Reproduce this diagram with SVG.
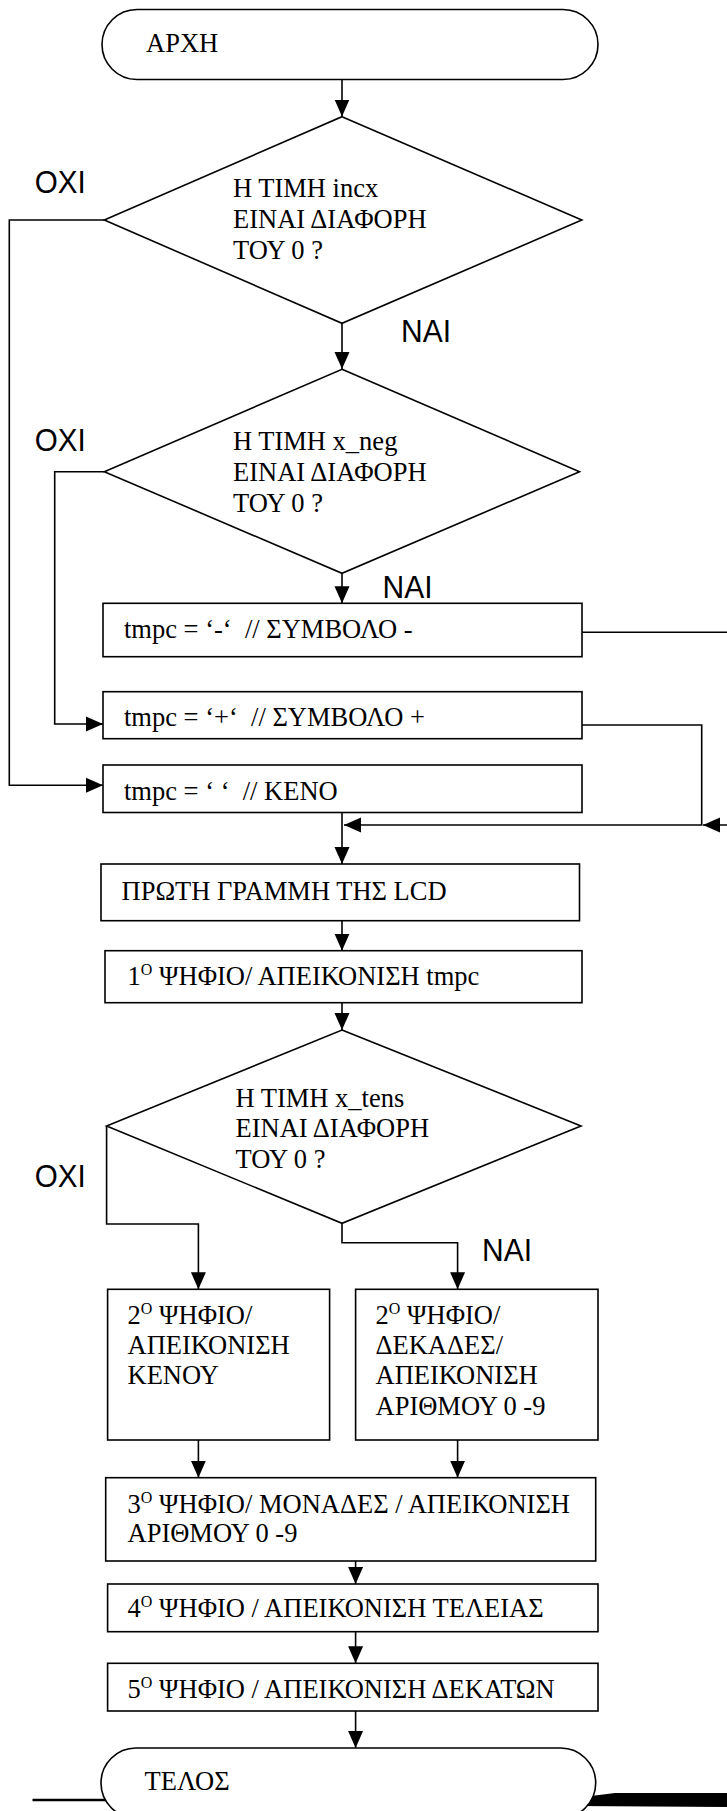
<svg xmlns="http://www.w3.org/2000/svg" width="727" height="1811" viewBox="0 0 727 1811">
<style>
  .shape { fill: #ffffff; stroke: #000000; stroke-width: 1.6; }
  .conn { fill: none; stroke: #000000; stroke-width: 1.6; }
  .t { font-family: "Liberation Serif", "Times New Roman", serif; font-size: 26.5px; fill: #000000; white-space: pre; }
  .sup { font-size: 16px; }
  .lbl { font-family: "Liberation Sans", Arial, sans-serif; font-size: 32px; fill: #000000; }
</style>
<defs>
  <marker id="arr" markerUnits="userSpaceOnUse" markerWidth="18" markerHeight="16" refX="17" refY="8" orient="auto">
    <path d="M0,0.5 L17,8 L0,15.5 Z" fill="#000000"/>
  </marker>
</defs>
<rect width="727" height="1811" fill="#ffffff"/>

<g id="connectors">
  <path class="conn" d="M342,79.5 V116.5" marker-end="url(#arr)"/>
  <path class="conn" d="M342,323.5 V369" marker-end="url(#arr)"/>
  <path class="conn" d="M104.3,220 H9.3 V785.3 H103" marker-end="url(#arr)"/>
  <path class="conn" d="M342,573.3 V603.3" marker-end="url(#arr)"/>
  <path class="conn" d="M104.3,471.7 H54.7 V724 H103" marker-end="url(#arr)"/>
  <path class="conn" d="M582,632.3 H740 V825 H703" marker-end="url(#arr)"/>
  <path class="conn" d="M582,725 H701.7 V825 H344" marker-end="url(#arr)"/>
  <path class="conn" d="M342,812.5 V864" marker-end="url(#arr)"/>
  <path class="conn" d="M342,920.7 V950.7" marker-end="url(#arr)"/>
  <path class="conn" d="M342,1002.7 V1030" marker-end="url(#arr)"/>
  <path class="conn" d="M106.6,1126 V1224 H198.4 V1289.3" marker-end="url(#arr)"/>
  <path class="conn" d="M342,1223.3 V1242.7 H457.6 V1289.3" marker-end="url(#arr)"/>
  <path class="conn" d="M198.4,1440 V1477.7" marker-end="url(#arr)"/>
  <path class="conn" d="M457.6,1440 V1477.7" marker-end="url(#arr)"/>
  <path class="conn" d="M355.6,1561 V1584" marker-end="url(#arr)"/>
  <path class="conn" d="M355.6,1631.7 V1663.3" marker-end="url(#arr)"/>
  <path class="conn" d="M355.6,1711 V1748" marker-end="url(#arr)"/>
</g>

<g id="labels">
  <text class="lbl" x="34.8" y="192.7" textLength="51" lengthAdjust="spacingAndGlyphs">ΟΧΙ</text>
  <text class="lbl" x="401" y="342" textLength="50" lengthAdjust="spacingAndGlyphs">ΝΑΙ</text>
  <text class="lbl" x="34.8" y="450.7" textLength="51" lengthAdjust="spacingAndGlyphs">ΟΧΙ</text>
  <text class="lbl" x="382.5" y="598.3" textLength="50" lengthAdjust="spacingAndGlyphs">ΝΑΙ</text>
  <text class="lbl" x="34.8" y="1186.7" textLength="51" lengthAdjust="spacingAndGlyphs">ΟΧΙ</text>
  <text class="lbl" x="482" y="1260.7" textLength="50" lengthAdjust="spacingAndGlyphs">ΝΑΙ</text>
</g>

<g id="start">
  <rect class="shape" x="102" y="9.5" width="496" height="70" rx="35" ry="35"/>
  <text class="t" x="146" y="52">ΑΡΧΗ</text>
</g>

<g id="decision-incx">
  <polygon class="shape" points="342,116.7 581.8,220 342,323.3 104.3,220"/>
  <text class="t" x="233" y="197">Η ΤΙΜΗ incx</text>
  <text class="t" x="233" y="228">ΕΙΝΑΙ ΔΙΑΦΟΡΗ</text>
  <text class="t" x="233" y="259">ΤΟΥ 0 ?</text>
</g>

<g id="decision-xneg">
  <polygon class="shape" points="342,369.3 579.5,471.7 342,573.3 104.3,471.7"/>
  <text class="t" x="233" y="450">Η ΤΙΜΗ x_neg</text>
  <text class="t" x="233" y="481">ΕΙΝΑΙ ΔΙΑΦΟΡΗ</text>
  <text class="t" x="233" y="512">ΤΟΥ 0 ?</text>
</g>

<g id="box-minus">
  <rect class="shape" x="103" y="603.3" width="479" height="53.4"/>
  <text class="t" x="124" y="638.3">tmpc = ‘-‘  // ΣΥΜΒΟΛΟ -</text>
</g>

<g id="box-plus">
  <rect class="shape" x="103" y="691.7" width="479" height="47"/>
  <text class="t" x="124" y="725.7">tmpc = ‘+‘  // ΣΥΜΒΟΛΟ +</text>
</g>

<g id="box-space">
  <rect class="shape" x="103" y="765" width="479" height="47.5"/>
  <text class="t" x="124" y="800">tmpc = ‘ ‘  // ΚΕΝΟ</text>
</g>

<g id="box-line1">
  <rect class="shape" x="101" y="864" width="478.5" height="56.7"/>
  <text class="t" x="121.5" y="900">ΠΡΩΤΗ ΓΡΑΜΜΗ ΤΗΣ LCD</text>
</g>

<g id="box-digit1">
  <rect class="shape" x="105" y="950.7" width="477" height="52"/>
  <text class="t" x="127.5" y="985">1<tspan class="sup" dy="-10">O</tspan><tspan dy="10"> ΨΗΦΙΟ/ ΑΠΕΙΚΟΝΙΣΗ tmpc</tspan></text>
</g>

<g id="decision-xtens">
  <polygon class="shape" points="342,1030 581,1126 342,1223.3 106.6,1126"/>
  <text class="t" x="235.5" y="1106.7">Η ΤΙΜΗ x_tens</text>
  <text class="t" x="235.5" y="1137.3">ΕΙΝΑΙ ΔΙΑΦΟΡΗ</text>
  <text class="t" x="235.5" y="1168.3">ΤΟΥ 0 ?</text>
</g>

<g id="box-digit2-blank">
  <rect class="shape" x="107.6" y="1289.3" width="222" height="150.7"/>
  <text class="t" x="127.5" y="1324">2<tspan class="sup" dy="-10">O</tspan><tspan dy="10"> ΨΗΦΙΟ/</tspan></text>
  <text class="t" x="127.5" y="1354">ΑΠΕΙΚΟΝΙΣΗ</text>
  <text class="t" x="127.5" y="1384.3">ΚΕΝΟΥ</text>
</g>

<g id="box-digit2-tens">
  <rect class="shape" x="355.6" y="1289.3" width="242.4" height="150.7"/>
  <text class="t" x="375.5" y="1324">2<tspan class="sup" dy="-10">O</tspan><tspan dy="10"> ΨΗΦΙΟ/</tspan></text>
  <text class="t" x="375.5" y="1354">ΔΕΚΑΔΕΣ/</text>
  <text class="t" x="375.5" y="1384.3">ΑΠΕΙΚΟΝΙΣΗ</text>
  <text class="t" x="375.5" y="1415">ΑΡΙΘΜΟΥ 0 -9</text>
</g>

<g id="box-digit3">
  <rect class="shape" x="105.7" y="1477.7" width="490" height="83.3"/>
  <text class="t" x="127.5" y="1512.7">3<tspan class="sup" dy="-10">O</tspan><tspan dy="10"> ΨΗΦΙΟ/ ΜΟΝΑΔΕΣ / ΑΠΕΙΚΟΝΙΣΗ</tspan></text>
  <text class="t" x="127.5" y="1541.7">ΑΡΙΘΜΟΥ 0 -9</text>
</g>

<g id="box-digit4">
  <rect class="shape" x="107.6" y="1584" width="490.4" height="47.7"/>
  <text class="t" x="127.5" y="1617.3">4<tspan class="sup" dy="-10">O</tspan><tspan dy="10"> ΨΗΦΙΟ / ΑΠΕΙΚΟΝΙΣΗ ΤΕΛΕΙΑΣ</tspan></text>
</g>

<g id="box-digit5">
  <rect class="shape" x="107.6" y="1663.3" width="490.4" height="47.7"/>
  <text class="t" x="127.5" y="1698.3">5<tspan class="sup" dy="-10">O</tspan><tspan dy="10"> ΨΗΦΙΟ / ΑΠΕΙΚΟΝΙΣΗ ΔΕΚΑΤΩΝ</tspan></text>
</g>

<g id="page-lines">
  <line x1="32.5" y1="1800" x2="120" y2="1800" stroke="#000000" stroke-width="2.6"/>
  <polygon points="575,1798 615,1793 727,1793 727,1807 575,1806" fill="#000000"/>
</g>

<g id="end">
  <rect class="shape" x="101" y="1748" width="494.7" height="70" rx="35" ry="35"/>
  <text class="t" x="144.6" y="1790">ΤΕΛΟΣ</text>
</g>
</svg>
